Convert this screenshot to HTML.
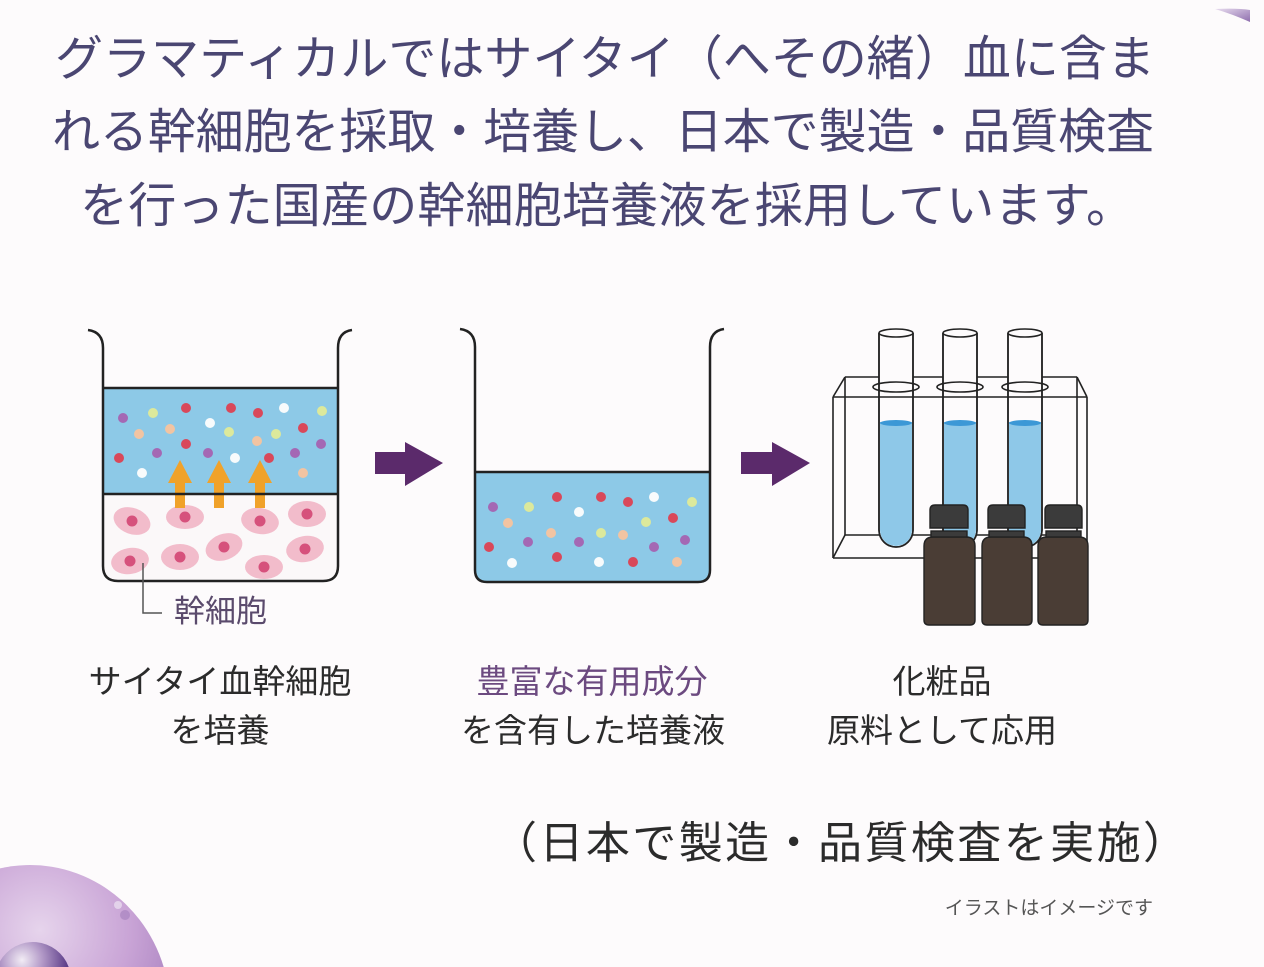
<!DOCTYPE html>
<html>
<head>
<meta charset="utf-8">
<style>
  html,body{margin:0;padding:0;background:#fdfbfc;width:1264px;height:967px;overflow:hidden;}
  body{position:relative;}
  svg{display:block;overflow:hidden;position:absolute;left:0;top:0;}
  .h{font-family:"Liberation Sans","Noto Sans CJK JP",sans-serif;fill:#4a4672;font-size:48px;}
  .lb{font-family:"Liberation Sans","Noto Sans CJK JP",sans-serif;fill:#2b2b2b;font-size:33px;}
</style>
</head>
<body>
<svg width="1264" height="967" viewBox="0 0 1264 967" xmlns="http://www.w3.org/2000/svg">
  <defs>
    <radialGradient id="blob" gradientUnits="userSpaceOnUse" cx="40" cy="930" r="150">
      <stop offset="0" stop-color="#e6d4ec"/>
      <stop offset="0.6" stop-color="#c9a4d6"/>
      <stop offset="1" stop-color="#a982c0"/>
    </radialGradient>
    <radialGradient id="sph" gradientUnits="userSpaceOnUse" cx="22" cy="960" r="45">
      <stop offset="0" stop-color="#f2ecf5"/>
      <stop offset="0.45" stop-color="#b39ac8"/>
      <stop offset="1" stop-color="#5e3f8a"/>
    </radialGradient>
    <linearGradient id="tr" x1="0" y1="0" x2="1" y2="1">
      <stop offset="0" stop-color="#e8dcef"/>
      <stop offset="1" stop-color="#8f6fae"/>
    </linearGradient>
    <clipPath id="b1clip">
      <path d="M103,494 L103,566 Q103,581 118,581 L323,581 Q338,581 338,566 L338,494 Z"/>
    </clipPath>
  </defs>

  <rect width="1264" height="967" fill="#fdfbfc"/>

  <!-- top-right decoration -->
  <path d="M1215,9 Q1238,8 1250,10 L1250,22 Q1232,14 1215,9 Z" fill="url(#tr)"/>

  <!-- bottom-left blob (clipped to frame by construction) -->
  <path d="M0,967 L0,868.4 A140,145 0 0 1 163.7,967 Z" fill="url(#blob)"/>
  <circle cx="118" cy="905" r="4" fill="#e9dcef" opacity="0.8"/>
  <circle cx="125" cy="915" r="5" fill="#a37fbd" opacity="0.6"/>
  <path d="M0,967 L0,961.2 A38,38 0 0 1 68.7,967 Z" fill="url(#sph)"/>

  <!-- heading -->
  <text class="h" x="55" y="75" textLength="1100" lengthAdjust="spacing">グラマティカルではサイタイ（へその緒）血に含ま</text>
  <text class="h" x="52" y="148" textLength="1102" lengthAdjust="spacing">れる幹細胞を採取・培養し、日本で製造・品質検査</text>
  <text class="h" x="80" y="222" textLength="1054" lengthAdjust="spacing">を行った国産の幹細胞培養液を採用しています。</text>

  <!-- ========== Beaker 1 ========== -->
  <rect x="103" y="388" width="235" height="106" fill="#8dc9e7"/>
  <g clip-path="url(#b1clip)">
    <rect x="103" y="494" width="235" height="90" fill="#fbf8f9"/>
    <g fill="#f2bccb">
      <ellipse cx="132" cy="521" rx="19" ry="13" transform="rotate(20 132 521)"/>
      <ellipse cx="185" cy="517" rx="19" ry="12"/>
      <ellipse cx="260" cy="521" rx="19" ry="13" transform="rotate(10 260 521)"/>
      <ellipse cx="307" cy="514" rx="19" ry="13"/>
      <ellipse cx="130" cy="561" rx="19" ry="13" transform="rotate(-10 130 561)"/>
      <ellipse cx="180" cy="557" rx="19" ry="13"/>
      <ellipse cx="224" cy="547" rx="19" ry="13" transform="rotate(-20 224 547)"/>
      <ellipse cx="264" cy="567" rx="19" ry="12"/>
      <ellipse cx="305" cy="549" rx="19" ry="13" transform="rotate(-10 305 549)"/>
    </g>
    <g fill="#d6517c">
      <circle cx="132" cy="521" r="5.5"/>
      <circle cx="185" cy="517" r="5.5"/>
      <circle cx="260" cy="521" r="5.5"/>
      <circle cx="307" cy="514" r="5.5"/>
      <circle cx="130" cy="561" r="5.5"/>
      <circle cx="180" cy="557" r="5.5"/>
      <circle cx="224" cy="547" r="5.5"/>
      <circle cx="264" cy="567" r="5.5"/>
      <circle cx="305" cy="549" r="5.5"/>
    </g>
  </g>
  <!-- dots beaker 1 -->
  <g>
    <circle cx="123" cy="418" r="5" fill="#a468b4"/>
    <circle cx="153" cy="413" r="5" fill="#dce99c"/>
    <circle cx="186" cy="408" r="5" fill="#d9485a"/>
    <circle cx="231" cy="408" r="5" fill="#d9485a"/>
    <circle cx="258" cy="413" r="5" fill="#d9485a"/>
    <circle cx="284" cy="408" r="5" fill="#f8fbfc"/>
    <circle cx="322" cy="411" r="5" fill="#dce99c"/>
    <circle cx="139" cy="434" r="5" fill="#f2c4a2"/>
    <circle cx="170" cy="429" r="5" fill="#f2c4a2"/>
    <circle cx="210" cy="423" r="5" fill="#f8fbfc"/>
    <circle cx="229" cy="432" r="5" fill="#dce99c"/>
    <circle cx="257" cy="441" r="5" fill="#f2c4a2"/>
    <circle cx="276" cy="434" r="5" fill="#dce99c"/>
    <circle cx="303" cy="428" r="5" fill="#d9485a"/>
    <circle cx="321" cy="444" r="5" fill="#a468b4"/>
    <circle cx="119" cy="458" r="5" fill="#d9485a"/>
    <circle cx="157" cy="453" r="5" fill="#a468b4"/>
    <circle cx="186" cy="444" r="5" fill="#d9485a"/>
    <circle cx="208" cy="453" r="5" fill="#a468b4"/>
    <circle cx="235" cy="458" r="5" fill="#f8fbfc"/>
    <circle cx="269" cy="458" r="5" fill="#d9485a"/>
    <circle cx="295" cy="453" r="5" fill="#a468b4"/>
    <circle cx="142" cy="473" r="5" fill="#f8fbfc"/>
    <circle cx="303" cy="473" r="5" fill="#f2c4a2"/>
  </g>
  <!-- orange arrows -->
  <g fill="#f0a22a">
    <path d="M175,508 L185,508 L185,483 L192,483 L180,460 L168,483 L175,483 Z"/>
    <path d="M214,508 L224,508 L224,483 L231,483 L219,460 L207,483 L214,483 Z"/>
    <path d="M255,508 L265,508 L265,483 L272,483 L260,460 L248,483 L255,483 Z"/>
  </g>
  <line x1="103" y1="388" x2="338" y2="388" stroke="#222" stroke-width="2.5"/>
  <line x1="103" y1="494" x2="338" y2="494" stroke="#222" stroke-width="2.5"/>
  <path d="M88,330 Q103,332 103,348 L103,566 Q103,581 118,581 L323,581 Q338,581 338,566 L338,348 Q338,332 352,330" fill="none" stroke="#222" stroke-width="2.5"/>
  <!-- 幹細胞 label -->
  <path d="M143,563 L143,613 L162,613" fill="none" stroke="#555" stroke-width="1.5"/>
  <text x="174" y="622" font-family="'Liberation Sans','Noto Sans CJK JP',sans-serif" font-size="31" fill="#5a4a6c">幹細胞</text>

  <!-- purple arrows -->
  <g fill="#5b2a6b">
    <path d="M375,452 L405,452 L405,442 L443,463 L405,486 L405,474 L375,474 Z"/>
    <path d="M741,452 L772,452 L772,442 L810,463 L772,486 L772,474 L741,474 Z"/>
  </g>

  <!-- ========== Beaker 2 ========== -->
  <path d="M475,472 L710,472 L710,570 Q710,582 698,582 L487,582 Q475,582 475,570 Z" fill="#8dc9e7"/>
  <g>
    <circle cx="493" cy="507" r="5" fill="#a468b4"/>
    <circle cx="529" cy="507" r="5" fill="#dce99c"/>
    <circle cx="557" cy="497" r="5" fill="#d9485a"/>
    <circle cx="579" cy="512" r="5" fill="#f8fbfc"/>
    <circle cx="601" cy="497" r="5" fill="#d9485a"/>
    <circle cx="628" cy="502" r="5" fill="#d9485a"/>
    <circle cx="654" cy="497" r="5" fill="#f8fbfc"/>
    <circle cx="692" cy="502" r="5" fill="#dce99c"/>
    <circle cx="508" cy="523" r="5" fill="#f2c4a2"/>
    <circle cx="551" cy="533" r="5" fill="#f2c4a2"/>
    <circle cx="601" cy="533" r="5" fill="#dce99c"/>
    <circle cx="623" cy="535" r="5" fill="#f2c4a2"/>
    <circle cx="646" cy="522" r="5" fill="#dce99c"/>
    <circle cx="673" cy="518" r="5" fill="#d9485a"/>
    <circle cx="489" cy="547" r="5" fill="#d9485a"/>
    <circle cx="528" cy="542" r="5" fill="#a468b4"/>
    <circle cx="579" cy="542" r="5" fill="#a468b4"/>
    <circle cx="654" cy="547" r="5" fill="#a468b4"/>
    <circle cx="685" cy="540" r="5" fill="#a468b4"/>
    <circle cx="512" cy="563" r="5" fill="#f8fbfc"/>
    <circle cx="557" cy="557" r="5" fill="#d9485a"/>
    <circle cx="599" cy="562" r="5" fill="#f8fbfc"/>
    <circle cx="633" cy="562" r="5" fill="#d9485a"/>
    <circle cx="677" cy="562" r="5" fill="#f2c4a2"/>
  </g>
  <line x1="475" y1="472" x2="710" y2="472" stroke="#222" stroke-width="2.5"/>
  <path d="M460,329 Q475,331 475,347 L475,570 Q475,582 487,582 L698,582 Q710,582 710,570 L710,347 Q710,331 724,329" fill="none" stroke="#222" stroke-width="2.5"/>

  <!-- ========== Test tube rack ========== -->
  <g fill="none" stroke="#222" stroke-width="1.6">
    <line x1="845" y1="377" x2="1077" y2="377"/>
    <line x1="845" y1="377" x2="845" y2="535"/>
    <line x1="1077" y1="377" x2="1077" y2="535"/>
    <line x1="845" y1="535" x2="1077" y2="535"/>
    <line x1="845" y1="377" x2="833" y2="397"/>
    <line x1="1077" y1="377" x2="1087" y2="397"/>
    <line x1="845" y1="535" x2="833" y2="558"/>
    <line x1="1077" y1="535" x2="1087" y2="558"/>
  </g>
  <!-- tubes -->
  <g stroke="#222" stroke-width="1.6">
    <path d="M879,333 L879,530 A17,17 0 0 0 913,530 L913,333" fill="#fdfbfc"/>
    <path d="M943,333 L943,530 A17,17 0 0 0 977,530 L977,333" fill="#fdfbfc"/>
    <path d="M1008,333 L1008,530 A17,17 0 0 0 1042,530 L1042,333" fill="#fdfbfc"/>
  </g>
  <g fill="#8ec8e8">
    <path d="M880,422 L880,530 A16,16 0 0 0 912,530 L912,422 Z"/>
    <path d="M944,422 L944,530 A16,16 0 0 0 976,530 L976,422 Z"/>
    <path d="M1009,422 L1009,530 A16,16 0 0 0 1041,530 L1041,422 Z"/>
  </g>
  <g fill="#3c98d6">
    <ellipse cx="896" cy="423" rx="16" ry="3"/>
    <ellipse cx="960" cy="423" rx="16" ry="3"/>
    <ellipse cx="1025" cy="423" rx="16" ry="3"/>
  </g>
  <g fill="none" stroke="#222" stroke-width="1.6">
    <path d="M879,333 L879,530 A17,17 0 0 0 913,530 L913,333"/>
    <path d="M943,333 L943,530 A17,17 0 0 0 977,530 L977,333"/>
    <path d="M1008,333 L1008,530 A17,17 0 0 0 1042,530 L1042,333"/>
    <ellipse cx="896" cy="333" rx="17" ry="4" fill="#fdfbfc"/>
    <ellipse cx="960" cy="333" rx="17" ry="4" fill="#fdfbfc"/>
    <ellipse cx="1025" cy="333" rx="17" ry="4" fill="#fdfbfc"/>
    <ellipse cx="896" cy="387" rx="23" ry="5"/>
    <ellipse cx="960" cy="387" rx="23" ry="5"/>
    <ellipse cx="1025" cy="387" rx="23" ry="5"/>
    <line x1="833" y1="397" x2="1087" y2="397"/>
    <line x1="833" y1="397" x2="833" y2="558"/>
    <line x1="1087" y1="397" x2="1087" y2="558"/>
    <line x1="833" y1="558" x2="1087" y2="558"/>
  </g>
  <!-- bottles -->
  <g stroke="#222" stroke-width="1.4">
    <path d="M924,546 Q924,537 933,537 L966,537 Q975,537 975,546 L975,620 Q975,625 970,625 L929,625 Q924,625 924,620 Z" fill="#4a3d35"/>
    <path d="M930,528 L930,510 Q930,505 935,505 L963,505 Q968,505 968,510 L968,528 Z" fill="#3b3b3b"/>
    <rect x="931" y="531" width="36" height="6" fill="#3b3b3b"/>
    <path d="M982,546 Q982,537 991,537 L1023,537 Q1032,537 1032,546 L1032,620 Q1032,625 1027,625 L987,625 Q982,625 982,620 Z" fill="#4a3d35"/>
    <path d="M988,528 L988,510 Q988,505 993,505 L1020,505 Q1025,505 1025,510 L1025,528 Z" fill="#3b3b3b"/>
    <rect x="989" y="531" width="35" height="6" fill="#3b3b3b"/>
    <path d="M1038,546 Q1038,537 1047,537 L1079,537 Q1088,537 1088,546 L1088,620 Q1088,625 1083,625 L1043,625 Q1038,625 1038,620 Z" fill="#4a3d35"/>
    <path d="M1045,528 L1045,510 Q1045,505 1050,505 L1077,505 Q1082,505 1082,510 L1082,528 Z" fill="#3b3b3b"/>
    <rect x="1046" y="531" width="35" height="6" fill="#3b3b3b"/>
  </g>

  <!-- labels -->
  <text class="lb" x="220" y="693" text-anchor="middle">サイタイ血幹細胞</text>
  <text class="lb" x="220" y="742" text-anchor="middle">を培養</text>
  <text class="lb" x="592" y="693" text-anchor="middle" style="fill:#6c4a80">豊富な有用成分</text>
  <text class="lb" x="593" y="742" text-anchor="middle">を含有した培養液</text>
  <text class="lb" x="942" y="693" text-anchor="middle">化粧品</text>
  <text class="lb" x="942" y="742" text-anchor="middle">原料として応用</text>

  <text x="493" y="858" font-family="'Liberation Sans','Noto Sans CJK JP',sans-serif" font-size="44" fill="#2b2b2b" textLength="694" lengthAdjust="spacing">（日本で製造・品質検査を実施）</text>

  <text x="1153" y="914" text-anchor="end" font-family="'Liberation Sans','Noto Sans CJK JP',sans-serif" font-size="19" fill="#555">イラストはイメージです</text>
</svg>
</body>
</html>
